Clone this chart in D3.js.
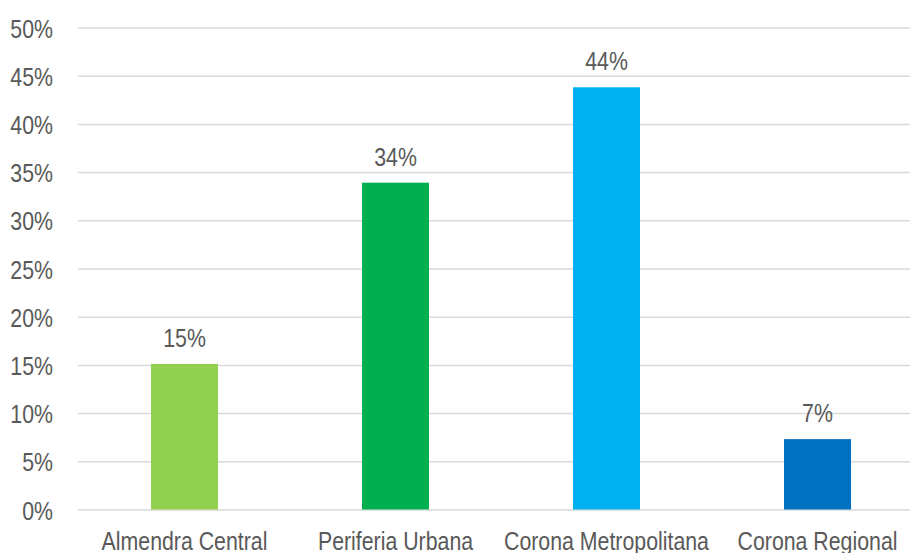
<!DOCTYPE html>
<html><head><meta charset="utf-8">
<script src="https://cdn.jsdelivr.net/npm/d3@7"></script>
<style>
html,body{margin:0;padding:0;background:#fff;overflow:hidden;}
svg text{font-family:"Liberation Sans","Arial",sans-serif;fill:#595959;}
</style></head>
<body><svg id="c" width="910" height="553"></svg>
<script>
const categories = ["Almendra Central","Periferia Urbana","Corona Metropolitana","Corona Regional"];
const values = [0.151, 0.339, 0.438, 0.073];
const labels = ["15%","34%","44%","7%"];
const colors = ["#92D050","#00B050","#00B0F0","#0070C0"];
const yTicks = [0,0.05,0.10,0.15,0.20,0.25,0.30,0.35,0.40,0.45,0.50];

const FS = 26, SX = 0.82;
const svg = d3.select("#c");
const x = d3.scaleBand().domain(categories).range([79, 923]).padding(0);
const y = d3.scaleLinear().domain([0, 0.5]).range([509.5, 27.5]);

const yAxis = d3.axisLeft(y).tickValues(yTicks).tickFormat(d3.format(".0%")).tickSize(-(912-78));
const gy = svg.append("g").attr("transform","translate(78,0)").call(yAxis);
gy.select(".domain").remove();
gy.selectAll(".tick line").attr("stroke","#d9d9d9").attr("stroke-width",1.5);
gy.selectAll(".tick text")
  .attr("font-size",FS).attr("x",0).attr("dy",null).attr("y",0)
  .attr("text-anchor","end")
  .attr("transform",`translate(-25,9.5) scale(${SX},1)`);

const bw = 67;
svg.selectAll("rect.bar").data(categories).join("rect")
  .attr("class","bar")
  .attr("x", (d)=> x(d) + x.bandwidth()/2 - bw/2)
  .attr("width", bw)
  .attr("y", (d,i)=> y(values[i]))
  .attr("height", (d,i)=> y(0) - y(values[i]))
  .attr("fill", (d,i)=> colors[i]);

svg.selectAll("text.lbl").data(categories).join("text")
  .attr("class","lbl")
  .attr("transform", (d,i)=> `translate(${x(d) + x.bandwidth()/2},${y(values[i]) - 17}) scale(${SX},1)`)
  .attr("text-anchor","middle")
  .attr("font-size",FS)
  .text((d,i)=>labels[i]);

const xAxis = d3.axisBottom(x).tickSize(0).tickPadding(0);
const gx = svg.append("g").attr("transform","translate(0,509.5)").call(xAxis);
gx.select(".domain").remove();
gx.selectAll(".tick text")
  .attr("font-size",FS).attr("y",0).attr("dy",null)
  .attr("transform",`translate(0,40.5) scale(${SX},1)`);
</script></body></html>
